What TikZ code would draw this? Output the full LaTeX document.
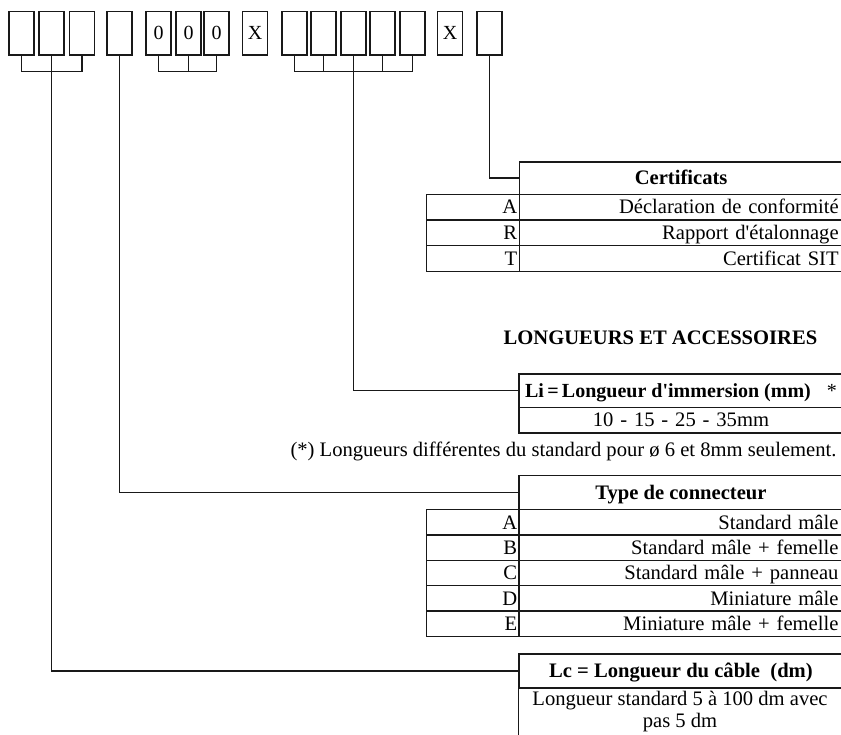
\documentclass[tikz,border=0pt]{standalone}
\usepackage{fontspec}
\setmainfont{Liberation Serif}
\usetikzlibrary{positioning}

\begin{document}
\begin{tikzpicture}[x=1pt,y=-1pt,
    font=\fontsize{20.6}{24}\selectfont,
    line/.style={line width=1.3pt, draw=black!90},
    slot/.style={line, minimum width=25pt, minimum height=43.3pt, inner sep=0pt, font=\fontsize{20}{22}\selectfont},
    headcell/.style={line, anchor=north west, minimum width=324pt, inner sep=0pt, text height=13.6pt, text depth=0pt, font=\fontsize{20.6}{24}\selectfont\bfseries},
    codecell/.style={line, anchor=north west, text width=88.8pt, inner xsep=2pt, inner ysep=0pt, align=right, text height=13.6pt, text depth=0pt},
    desccell/.style={line, anchor=north west, text width=315pt, inner xsep=4.5pt, inner ysep=0pt, align=right, text height=13.6pt, text depth=0pt}]
        \useasboundingbox (0,0) rectangle (841,735);

        % the code slots
        \foreach \n/\x/\t in {1/21.5/{},2/51.5/{},3/82/{},4/119.5/{},5/158.5/0,6/188.5/0,7/216.5/0,8/255/X,
                9/294.5/{},10/323.5/{},11/353.5/{},12/382.5/{},13/412.5/{},14/450/X,15/489.5/{}}
            \node[slot] (b\n) at (\x,33.35) {\t};

        % brackets under the groups
        \draw[line] (b1.south) -- ++(0,16) -| (b3.south);
        \draw[line] (b5.south) -- ++(0,16) -| (b7.south);
        \draw[line] (b6.south) -- ++(0,16);
        \draw[line] (b9.south) -- ++(0,16) -| (b13.south);
        \draw[line] (b10.south) -- ++(0,16);
        \draw[line] (b12.south) -- ++(0,16);

        % Certificats
        \node[headcell, minimum height=32.4pt] (certhead) at (518.5,161.3) {Certificats};
        \foreach \c/\d [count=\i] in {A/Déclaration de conformité, R/Rapport d\textquotesingle étalonnage, T/Certificat SIT} {
            \node[codecell, minimum height=25.67pt] (cert\c) at (425.7,{193.7+25.67*(\i-1)}) {\c};
            \node[desccell, minimum height=25.67pt] (certd\c) at (518.5,{193.7+25.67*(\i-1)}) {\d};
        }

        % longueurs
        \node[font=\fontsize{20.6}{24}\selectfont\bfseries] (lenhead) at (660.5,338) {LONGUEURS ET ACCESSOIRES};
        \node[headcell, minimum height=33.4pt, font=\fontsize{20}{24}\selectfont\bfseries] (lihead) at (518.3,373.3)
            {Li\,=\,Longueur d\textquotesingle immersion (mm)\hspace{16pt}{\mdseries *}};
        \node[desccell, minimum height=25.6pt, align=center] (lival) at (518.3,406.7) {10 - 15 - 25 - 35mm};
        \node[anchor=east] (linote) at (840,451) {(*) Longueurs différentes du standard pour ø 6 et 8mm seulement.};

        % Type de connecteur
        \node[headcell, minimum height=34pt] (typehead) at (518.3,475) {Type de connecteur};
        \foreach \c/\d [count=\i] in {A/Standard mâle, B/Standard mâle + femelle, C/Standard mâle + panneau,
                D/Miniature mâle, E/Miniature mâle + femelle} {
            \node[codecell, minimum height=25.34pt] (type\c) at (425.7,{509+25.34*(\i-1)}) {\c};
            \node[desccell, minimum height=25.34pt] (typed\c) at (518.3,{509+25.34*(\i-1)}) {\d};
        }

        % Lc
        \node[headcell, minimum height=34pt] (lchead) at (518.3,653.3) {Lc = Longueur du câble\ \ (dm)};
        \draw[line] (lchead.south west) -- ++(0,60);
        \node[align=center, anchor=base, font=\fontsize{20.6}{22}\selectfont] (lcbody) at (680,727) {Longueur standard 5 à 100 dm avec\\pas 5 dm};

        % connectors
        \draw[line] (b15.south) |- (certhead.west);
        \draw[line] (b11.south) |- (lihead.west);
        \draw[line] (b4.south) |- (typehead.west);
        \draw[line] (b2.south) |- (lchead.west);
    \end{tikzpicture}
\end{document}
